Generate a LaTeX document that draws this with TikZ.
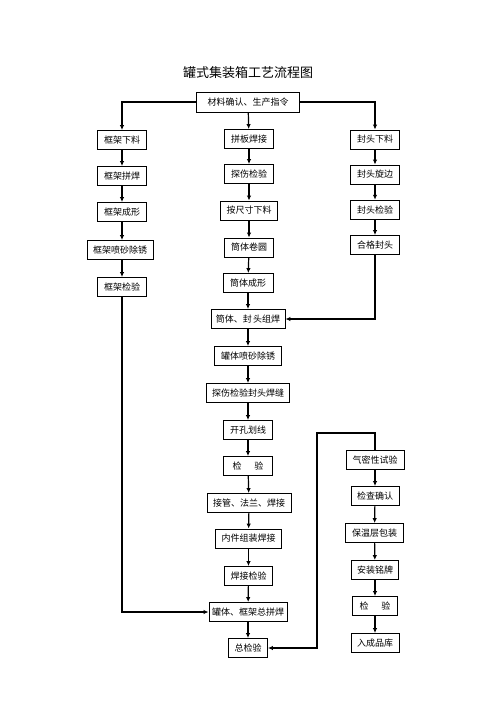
\documentclass[tikz,border=0pt]{standalone}
\usepackage{fontspec}
\setmainfont{Noto Sans CJK SC}
\usetikzlibrary{arrows.meta}
\tikzset{
  box/.style={draw,line width=0.9pt,inner sep=0pt,minimum height=19pt,font=\fontsize{9}{9}\selectfont},
  flow/.style={line width=1.2pt,-{Latex[length=5pt,width=4.5pt]}}
}
\begin{document}
\begin{tikzpicture}[x=1pt,y=-1pt]
				\useasboundingbox (0,0) rectangle (496,702);
				\node (title) at (248,73) {\fontsize{13}{13}\selectfont 罐式集装箱工艺流程图};
				\node[box,minimum width=103pt,minimum height=20pt] (order) at (248,102) {材料确认、生产指令};
				% frame column
				\node[box,minimum width=49pt] (frcut) at (122,140) {框架下料};
				\node[box,minimum width=49pt] (frweld) at (122,176) {框架拼焊};
				\node[box,minimum width=49pt] (frform) at (122,212) {框架成形};
				\node[box,minimum width=66pt] (frblast) at (120,250) {框架喷砂除锈};
				\node[box,minimum width=49pt] (frcheck) at (122,287) {框架检验};
				% shell column
				\node[box,minimum width=49pt] (plate) at (249,139) {拼板焊接};
				\node[box,minimum width=49pt] (ndt) at (249,174) {探伤检验};
				\node[box,minimum width=57pt] (size) at (249,210.5) {按尺寸下料};
				\node[box,minimum width=49pt] (roll) at (249,247.5) {筒体卷圆};
				\node[box,minimum width=50pt] (shell) at (248,283) {筒体成形};
				% head column
				\node[box,minimum width=49pt] (hdcut) at (375,139.5) {封头下料};
				\node[box,minimum width=49pt] (hdspin) at (375,174.5) {封头旋边};
				\node[box,minimum width=49pt] (hdcheck) at (375,209.7) {封头检验};
				\node[box,minimum width=49pt] (hdok) at (375,245) {合格封头};
				% tank body
				\node[box,minimum width=74pt] (join) at (248,319) {筒体、封\,头组焊};
				\node[box,minimum width=67pt] (tkblast) at (248,356) {罐体喷砂除锈};
				\node[box,minimum width=83pt] (seam) at (248,393) {探伤检验封头焊缝};
				\node[box,minimum width=49pt] (hole) at (248,430) {开孔划线};
				\node[box,minimum width=49pt] (check) at (248,466) {检\hspace{13pt}验};
				\node[box,minimum width=84pt] (pipe) at (249,503) {接管、法兰、焊接};
				\node[box,minimum width=66pt] (inner) at (248.5,538.5) {内件组装焊接};
				\node[box,minimum width=48pt] (wdcheck) at (248.5,576) {焊接检验};
				\node[box,minimum width=78pt] (final) at (248,612) {罐体、框架总拼焊};
				\node[box,minimum width=39pt] (total) at (248,648) {总检验};
				% finishing column
				\node[box,minimum width=58pt] (leak) at (375,460) {气密性试验};
				\node[box,minimum width=48pt] (confirm) at (375,496) {检查确认};
				\node[box,minimum width=58pt] (insul) at (374.5,533) {保温层包装};
				\node[box,minimum width=47pt] (plate2) at (375,570) {安装铭牌};
				\node[box,minimum width=45pt] (check2) at (375,606) {检\hspace{13pt}验};
				\node[box,minimum width=48pt] (store) at (375,643) {入成品库};
				\coordinate (bend) at (317,433);
				\draw[flow] (order.west) -| (frcut.north);
				\draw[flow] (order) -- (plate);
				\draw[flow] (order.east) -| (hdcut.north);
				\draw[flow] (frcut) -- (frweld);
				\draw[flow] (frweld) -- (frform);
				\draw[flow] (frform) -- (frform|-frblast.north);
				\draw[flow] (frform|-frblast.south) -- (frcheck);
				\draw[flow] (plate) -- (ndt);
				\draw[flow] (ndt) -- (size);
				\draw[flow] (size) -- (roll);
				\draw[flow] (roll) -- (shell);
				\draw[flow] (shell) -- (join);
				\draw[flow] (hdcut) -- (hdspin);
				\draw[flow] (hdspin) -- (hdcheck);
				\draw[flow] (hdcheck) -- (hdok);
				\draw[flow] (hdok.south) |- (join.east);
				\draw[flow] (join) -- (tkblast);
				\draw[flow] (tkblast) -- (seam);
				\draw[flow] (seam) -- (hole);
				\draw[flow] (hole) -- (check);
				\draw[flow] (check) -- (pipe);
				\draw[flow] (pipe) -- (inner);
				\draw[flow] (inner) -- (wdcheck);
				\draw[flow] (wdcheck) -- (final);
				\draw[flow] (final) -- (total);
				\draw[flow] (frcheck.south) |- (final.west);
				\draw[flow,{Latex[length=5pt,width=4.5pt]}-] (total.east) -| (bend) -| (leak.north);
				\draw[flow] (leak) -- (confirm);
				\draw[flow] (confirm) -- (insul);
				\draw[flow] (insul) -- (plate2);
				\draw[flow] (plate2) -- (check2);
				\draw[flow] (check2) -- (store);
			\end{tikzpicture}
\end{document}
